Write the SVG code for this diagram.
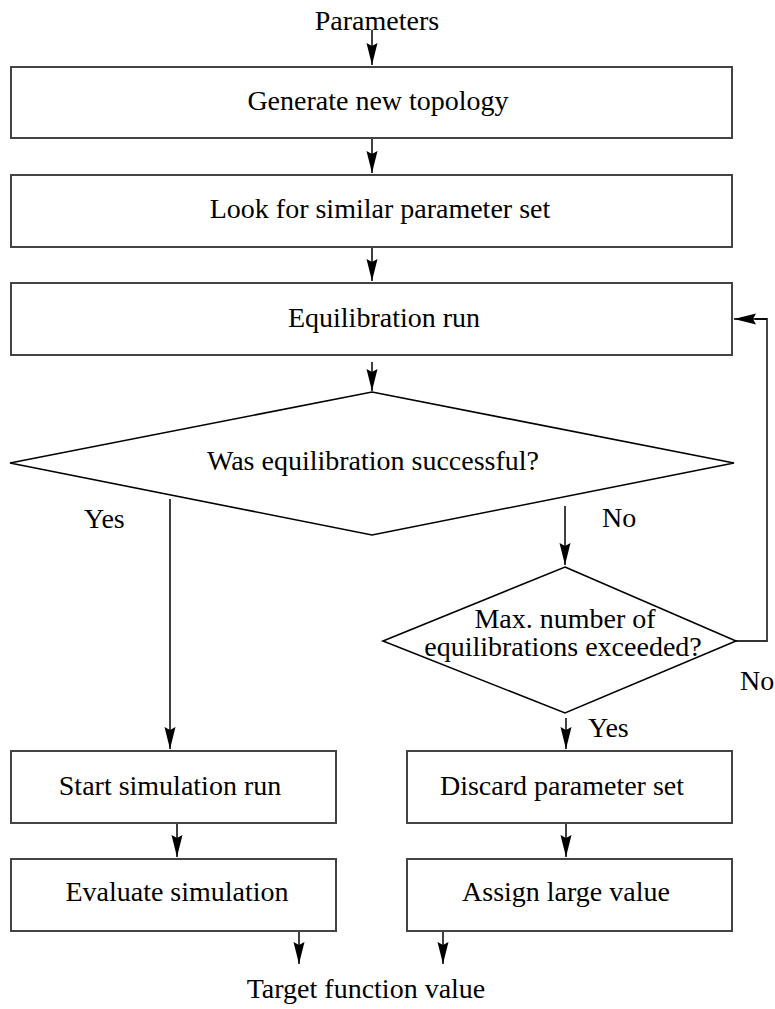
<svg xmlns="http://www.w3.org/2000/svg" width="775" height="1009" viewBox="0 0 775 1009">
<style>
.box{fill:#fff;stroke:#444;stroke-width:2}
.dia{fill:#fff;stroke:#000;stroke-width:1.6}
text{font-family:'Liberation Serif','DejaVu Serif',serif;font-size:28px;fill:#000}
.t{text-anchor:middle}
.tl{text-anchor:start}
.c{fill:none;stroke:#000;stroke-width:1.5;marker-end:url(#ah)}
.cn{fill:none;stroke:#333;stroke-width:1.8}
</style>
<defs>
<marker id="ah" markerUnits="userSpaceOnUse" markerWidth="24" markerHeight="12" refX="22" refY="5.5" orient="auto">
<path d="M0,0 L22,5.5 L0,11 L3,5.5 z" fill="#000"/>
</marker>
</defs>
<g id="connectors">
<line class="c" x1="372" y1="30" x2="372" y2="65"/>
<line class="c" x1="372" y1="138" x2="372" y2="173"/>
<line class="c" x1="372" y1="247" x2="372" y2="281"/>
<line class="c" x1="372" y1="362" x2="372" y2="391"/>
<line class="c" x1="170" y1="499" x2="170" y2="749"/>
<line class="c" x1="565" y1="506" x2="565" y2="565"/>
<polyline class="cn" points="736,641 767,641 767,319 755,319"/>
<line class="c" x1="767" y1="319" x2="734" y2="319"/>
<line class="c" x1="566" y1="718" x2="566" y2="749"/>
<line class="c" x1="177" y1="823" x2="177" y2="857"/>
<line class="c" x1="566" y1="823" x2="566" y2="857"/>
<line class="c" x1="299" y1="931" x2="299" y2="964"/>
<line class="c" x1="443" y1="931" x2="443" y2="964"/>
</g>
<g id="parameters"><text class="t" x="377" y="30" font-family="Liberation Serif">Parameters</text></g>
<g id="generate"><rect class="box" x="11" y="67" width="721" height="71"/><text class="t" x="378" y="110" font-family="Liberation Serif">Generate new topology</text></g>
<g id="lookfor"><rect class="box" x="11" y="175" width="721" height="72"/><text class="t" x="380" y="218" font-family="Liberation Serif">Look for similar parameter set</text></g>
<g id="equilibration"><rect class="box" x="11" y="283" width="721" height="72"/><text class="t" x="384" y="327" font-family="Liberation Serif">Equilibration run</text></g>
<g id="successful"><polygon class="dia" points="372,392 734,463 372,535 10,463"/><text class="t" x="373" y="470" font-family="Liberation Serif">Was equilibration successful?</text></g>
<g id="yes1"><text class="tl" x="84" y="528" font-family="Liberation Serif">Yes</text></g>
<g id="no1"><text class="tl" x="602" y="527" font-family="Liberation Serif">No</text></g>
<g id="maxnumber"><polygon class="dia" points="565,567 736,641 565,713 383,641"/><text class="t" x="565" y="628" font-family="Liberation Serif">Max. number of</text><text class="t" x="563" y="656" font-family="Liberation Serif">equilibrations exceeded?</text></g>
<g id="no2"><text class="tl" x="740" y="690" font-family="Liberation Serif">No</text></g>
<g id="yes2"><text class="tl" x="588" y="737" font-family="Liberation Serif">Yes</text></g>
<g id="startsim"><rect class="box" x="11" y="751" width="325" height="72"/><text class="t" x="170" y="795" font-family="Liberation Serif">Start simulation run</text></g>
<g id="discard"><rect class="box" x="407" y="751" width="325" height="72"/><text class="t" x="562" y="795" font-family="Liberation Serif">Discard parameter set</text></g>
<g id="evaluate"><rect class="box" x="11" y="859" width="325" height="72"/><text class="t" x="177" y="901" font-family="Liberation Serif">Evaluate simulation</text></g>
<g id="assign"><rect class="box" x="407" y="859" width="325" height="72"/><text class="t" x="566" y="901" font-family="Liberation Serif">Assign large value</text></g>
<g id="target"><text class="t" x="366" y="998" font-family="Liberation Serif">Target function value</text></g>
</svg>
